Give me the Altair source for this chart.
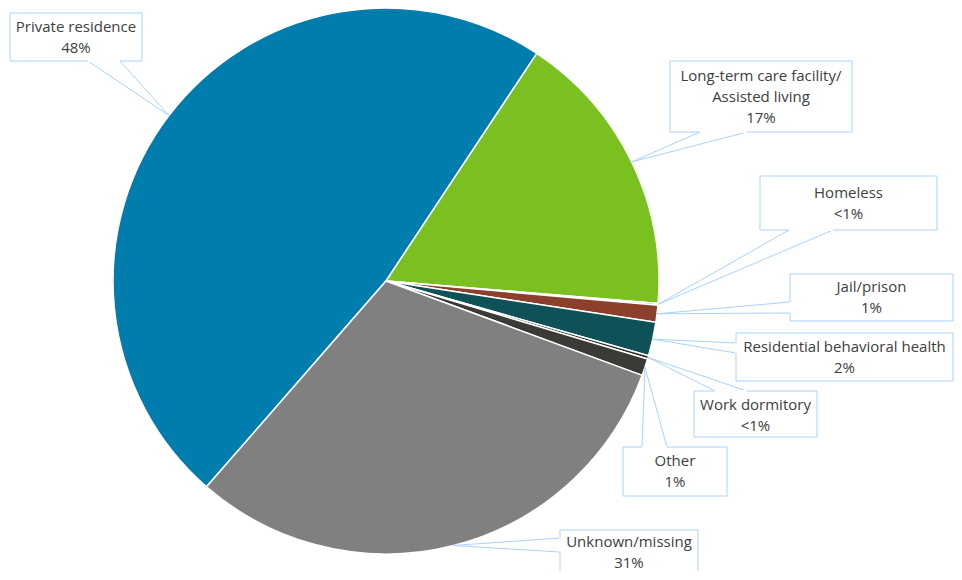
import math
import altair as alt
import pandas as pd

# ---- data ----
categories = ["Private residence", "Long-term care facility/Assisted living", "Homeless",
              "Jail/prison", "Residential behavioral health", "Work dormitory", "Other",
              "Unknown/missing"]
values = [47.9, 17.0, 0.1, 1.0, 2.0, 0.2, 1.0, 30.8]
label_texts = ["Private residence\n48%", "Long-term care facility/\nAssisted living\n17%",
               "Homeless\n<1%", "Jail/prison\n1%", "Residential behavioral health\n2%",
               "Work dormitory\n<1%", "Other\n1%", "Unknown/missing\n31%"]
colors = ["#007DAC", "#7AC020", "#2F6B3A", "#8C3F2B", "#0E5157", "#2B2B2B", "#3A3A36", "#808080"]

# ---- layout (pixel positions in page coordinates) ----
OFF = 8
CX, CY, R = 386 - OFF, 281 - OFF, 273
START_DEG = -138.9
LH = 21
# box: x0, y0, x1, y1, callout base points, first text line centre y
boxes = [
    (10, 13, 142, 61, (88, 61), (120, 61), 27),
    (670, 61, 852, 132, (700, 132), (747, 132), 76),
    (760, 176, 937, 230, (789, 230), (833, 230), 193),
    (790, 274, 953, 321, (790, 302), (790, 313), 287),
    (736, 333, 953, 381, (736, 343), (736, 353), 347),
    (694, 391, 817, 437, (715, 391), (747, 391), 405),
    (623, 447, 727, 496, (642, 447), (667, 447), 461),
    (560, 530, 698, 590, (560, 538), (560, 552), 542),
]
LINE_COLOR = "#A8D2F7"

total = sum(values)
pie_df = pd.DataFrame({"cat": categories, "value": values, "idx": list(range(len(values)))})

# anchors at slice mid-angles on the arc
anchors = []
cum = 0.0
for v in values:
    mid = math.radians(START_DEG + 360 * (cum + v / 2) / total)
    anchors.append((CX + R * math.sin(mid), CY - R * math.cos(mid)))
    cum += v

rects, rules, whites, texts = [], [], [], []
for i, (x0, y0, x1, y1, b1, b2, ty) in enumerate(boxes):
    rects.append({"x": x0 - OFF, "x2": x1 - OFF, "y": y0 - OFF, "y2": y1 - OFF})
    ax, ay = anchors[i]
    for bx, by in (b1, b2):
        rules.append({"x": bx - OFF, "y": by - OFF, "x2": ax, "y2": ay})
    whites.append({"x": b1[0] - OFF, "y": b1[1] - OFF, "x2": b2[0] - OFF, "y2": b2[1] - OFF})
    texts.append({"x": (x0 + x1) / 2 - OFF, "y": ty - OFF, "t": label_texts[i]})

start = math.radians(START_DEG)
pie = alt.Chart(pie_df).mark_arc(radius=R, stroke="white", strokeWidth=1.5).encode(
    theta=alt.Theta("value:Q", stack=True,
                    scale=alt.Scale(domain=[0, total], range=[start, start + 2 * math.pi])),
    color=alt.Color("cat:N", scale=alt.Scale(domain=categories, range=colors), legend=None),
    order=alt.Order("idx:Q"),
    x=alt.value(CX), y=alt.value(CY),
)

pix = dict(scale=None)
rule_layer = alt.Chart(pd.DataFrame(rules)).mark_rule(color=LINE_COLOR, strokeWidth=1).encode(
    x=alt.X("x:Q", **pix), y=alt.Y("y:Q", **pix), x2="x2:Q", y2="y2:Q")
rect_layer = alt.Chart(pd.DataFrame(rects)).mark_rect(fill="white", stroke=LINE_COLOR, strokeWidth=1).encode(
    x=alt.X("x:Q", **pix), y=alt.Y("y:Q", **pix), x2="x2:Q", y2="y2:Q")
white_layer = alt.Chart(pd.DataFrame(whites)).mark_rule(color="white", strokeWidth=2).encode(
    x=alt.X("x:Q", **pix), y=alt.Y("y:Q", **pix), x2="x2:Q", y2="y2:Q")
text_layer = alt.Chart(pd.DataFrame(texts)).mark_text(
    font="Open Sans", fontSize=15, color="#404040", lineBreak="\n", lineHeight=LH,
    align="center", baseline="middle").encode(
    x=alt.X("x:Q", **pix), y=alt.Y("y:Q", **pix), text="t:N")

chart = alt.layer(pie, rule_layer, rect_layer, white_layer, text_layer).properties(
    width=946, height=563, padding=0, autosize="none"
).configure_view(stroke=None)

chart.save("out.html", embed_options={"renderer": "svg", "actions": False})
